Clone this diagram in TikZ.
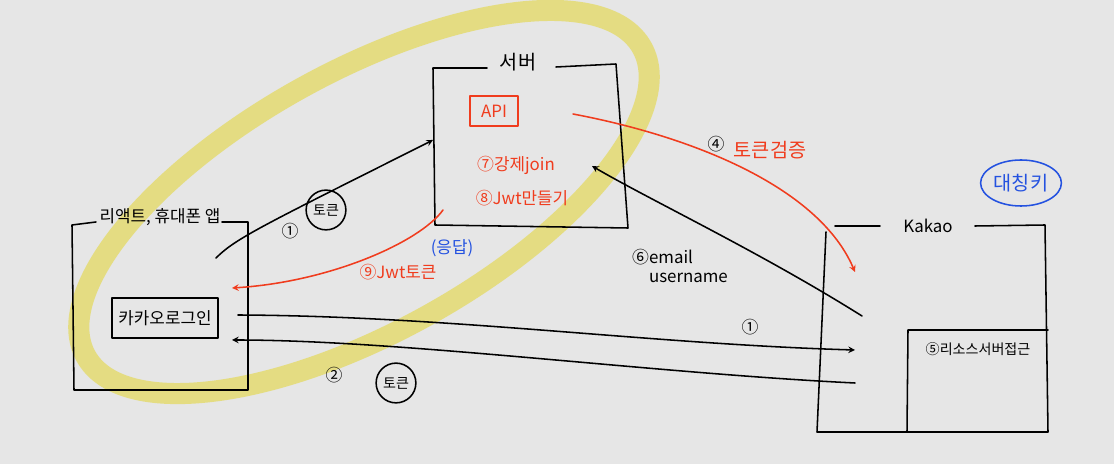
\documentclass[tikz,border=0pt]{standalone}
\usepackage{fontspec}
\setmainfont{Noto Sans CJK KR}
\usetikzlibrary{shapes.geometric}
\definecolor{paper}{HTML}{E6E6E6}
\definecolor{penred}{HTML}{F03C1E}
\definecolor{penblue}{HTML}{2452E0}
\definecolor{marker}{HTML}{E4DC78}
\newcommand{\sketchbig}{\fontsize{14}{16}\selectfont}
\newcommand{\sketchmid}{\fontsize{12}{14}\selectfont}
\newcommand{\sketchsmall}{\fontsize{10}{12}\selectfont}
\tikzset{
  pen/.style={line width=1.1pt, line cap=round, line join=round},
  lbl/.style={inner sep=1pt, font=\sketchmid},
}
\begin{document}
\begin{tikzpicture}[>=stealth, thick, x=0.025cm, y=-0.025cm]
\fill[paper] (0,0) rectangle (1114,464);
\useasboundingbox (0,0) rectangle (1114,464);

% highlighter round the server
\draw[marker, line width=15pt, opacity=0.9, rotate around={29:(364,202)}]
  (364,202) ellipse [x radius=318, y radius=130];

% client app
\node[font=\sketchmid] (app) at (160,217) {리액트, 휴대폰 앱};
\draw[pen] (96,222) -- (72,225) -- (74,390) -- (248,390) -- (248,222) -- (222,222);
\node[draw, pen, minimum width=2.65cm, minimum height=1cm, font=\sketchmid] (login) at (165,318) {카카오로그인};

% server
\node[font=\sketchbig] (server) at (518,62) {서버};
\draw[pen] (487,68) -- (433,68) -- (435,225) -- (628,228) -- (616,64) -- (556,67);
\node[draw=penred, pen, text=penred, font=\sketchmid, minimum width=1.2cm, minimum height=0.75cm] (api) at (494,111) {API};
\node[lbl, text=penred] (join) at (516,165) {⑦강제join};
\node[lbl, text=penred] (jwt) at (522,198) {⑧Jwt만들기};

% kakao
\node[font=\sketchmid] (kakao) at (928,226) {Kakao};
\draw[pen] (880,226) -- (835,226);
\draw[pen] (826,232) -- (817,432) -- (1048,432) -- (1045,225) -- (975,226);
\draw[pen] (1048,330) -- (908,330) -- (907,432);
\node[lbl, font=\sketchsmall] (resource) at (978,349) {⑤리소스서버접근};
\node[draw=penblue, pen, ellipse, text=penblue, inner sep=1pt, minimum width=1.95cm, minimum height=1.15cm, font=\sketchbig] (symkey) at (1021,183) {대칭키};

% free ends of the connectors
\coordinate (appOut) at (216,258);
\coordinate (srvIn) at (433,140);
\coordinate (srvOut) at (443,210);
\coordinate (appIn) at (232,288);
\coordinate (apiOut) at (573,114);
\coordinate (kkIn) at (855,272);
\coordinate (kkOut) at (862,316);
\coordinate (srvRight) at (592,166);
\coordinate (loginOut) at (238,315);
\coordinate (kkLogin) at (855,350);
\coordinate (kkBack) at (855,383);
\coordinate (loginIn) at (232,340);

\draw[pen, ->] (appOut) .. controls (236,238) and (262,226) .. (srvIn);
\draw[pen, penred, ->] (srvOut) .. controls (420,242) and (330,282) .. (appIn);
\draw[pen, penred, ->] (apiOut) .. controls (700,138) and (820,190) .. (kkIn);
\draw[pen, ->] (kkOut) .. controls (760,252) and (650,200) .. (srvRight);
\draw[pen, ->] (loginOut) .. controls (450,316) and (650,344) .. (kkLogin);
\draw[pen, ->] (kkBack) .. controls (650,373) and (400,340) .. (loginIn);

% step labels
\node[lbl] (s1) at (290,231) {①};
\node[draw, pen, circle, inner sep=3pt, font=\sketchsmall] (tok1) at (326,210) {토큰};
\node[lbl, text=penred] (s9) at (398,272) {⑨Jwt토큰};
\node[lbl, text=penblue] (resp) at (452,248) {(응답)};
\node[lbl] (s4) at (716,144) {④};
\node[lbl, text=penred, font=\sketchbig] (verify) at (770,150) {토큰검증};
\node[lbl, align=left] (s6) at (680,266) {⑥email\\\quad username};
\node[lbl] (s1b) at (750,327) {①};
\node[lbl] (s2) at (334,375) {②};
\node[draw, pen, circle, inner sep=3pt, font=\sketchsmall] (tok2) at (396,383) {토큰};
\end{tikzpicture}
\end{document}
